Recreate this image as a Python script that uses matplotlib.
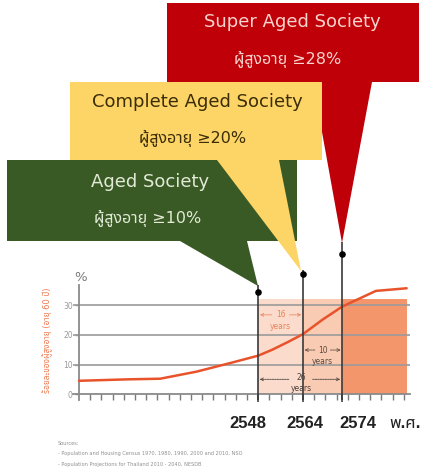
import numpy as np
import matplotlib
matplotlib.use('Agg')
import matplotlib.pyplot as plt
from matplotlib import font_manager
from matplotlib.ft2font import FT2Font
from matplotlib.patches import Polygon

# share of people aged 60+ (%), by Thai Buddhist-era year
curve_years = [2484, 2502, 2513, 2526, 2538, 2548, 2553, 2559, 2564, 2569, 2574, 2586, 2597]
curve_pct = [4.5, 5.0, 5.2, 7.6, 10.5, 13.0, 15.0, 17.8, 20.3, 25.2, 29.6, 34.9, 35.8]

milestone_years = [2548, 2564, 2574]
milestone_labels = ['2548', '2564', '2574']
stage_names = ['Aged Society', 'Complete Aged Society', 'Super Aged Society']
stage_thresholds = [10, 20, 28]

span_edges = [2548, 2564, 2574, 2597]
span_top = 32
gap_years = ['16', '10', '26']
y_ticks = [0, 10, 20, 30]

sources = ['Sources:',
           '- Population and Housing Census 1970, 1980, 1990, 2000 and 2010, NSO',
           '- Population Projections for Thailand 2010 - 2040, NESDB']


def find_thai_font():
    '''pick an installed family that has Thai glyphs'''
    found = []
    for f in font_manager.fontManager.ttflist:
        try:
            cmap = FT2Font(f.fname).get_charmap()
        except Exception:
            continue
        if 0x0E1C in cmap and 0x0E2D in cmap and 0x0E39 in cmap:
            found.append(f.name)
    for pref in ['Noto Sans Thai', 'Noto Sans Thai UI', 'Loma', 'Garuda', 'Tlwg Typo', 'Norasi']:
        if pref in found:
            return pref
    return found[0] if found else 'DejaVu Sans'


thai = find_thai_font()
latin_fam = ['DejaVu Sans', thai]
bold_fam = ['Liberation Sans', thai]

# the x axis of the original is not linear in years
scale_years = [2444, 2484, 2548, 2564, 2574, 2642]
scale_pos = [-10, 0, 16, 20, 23.5, 40.5]


def fwd(x):
    return np.interp(x, scale_years, scale_pos)


def inv(p):
    return np.interp(p, scale_pos, scale_years)


W, H = 430, 473
fig = plt.figure(figsize=(W / 100, H / 100), dpi=100)

# overlay in pixel coordinates for the callouts
ov = fig.add_axes([0, 0, 1, 1])
ov.set_xlim(0, W)
ov.set_ylim(H, 0)
ov.axis('off')

red, yellow, green = '#c00008', '#fdd466', '#395a25'
ov.add_patch(Polygon([(167, 3), (419, 3), (419, 82), (372, 82), (342, 243), (313, 82), (167, 82)],
                     closed=True, fc=red, ec='none'))
ov.add_patch(Polygon([(7, 160), (297, 160), (297, 241), (247, 241), (258, 286), (180, 241), (7, 241)],
                     closed=True, fc=green, ec='none'))
ov.add_patch(Polygon([(70, 82), (322, 82), (322, 160), (279, 160), (301, 271), (217, 160), (70, 160)],
                     closed=True, fc=yellow, ec='none'))

box_text = [((150, 182), (148, 218), '#e2ead6'),
            ((197, 102), (193, 138), '#3b2d08'),
            ((292, 22), (288, 60), '#f9d4cc')]
for name, thr, (p1, p2, col) in zip(stage_names, stage_thresholds, box_text):
    ov.text(p1[0], p1[1], name, color=col, fontsize=13, ha='center', va='center', family=latin_fam)
    ov.text(p2[0], p2[1], 'ผู้สูงอายุ ≥{}%'.format(thr), color=col, fontsize=11.5,
            ha='center', va='center', family=latin_fam)

for lab, xp in zip(milestone_labels, [248, 305, 358]):
    ov.text(xp, 423, lab, fontsize=12, fontweight='bold', color='#222222',
            ha='center', va='center', family=bold_fam)
ov.text(405, 423, 'พ.ศ.', fontsize=12, fontweight='bold', color='#222222',
        ha='center', va='center', family=bold_fam)

ov.text(81, 277, '%', fontsize=9.5, color='#7a7a7a', ha='center', va='center')
ov.text(48, 340, 'ร้อยละของผู้สูงอายุ (อายุ 60 ปี)', rotation=90, fontsize=6,
        color='#f07a50', ha='center', va='center', family=latin_fam)

for i, s in enumerate(sources):
    ov.text(58, 443 + i * 10.5, s, fontsize=3.6, color='#8f8f8f', ha='left', va='center')

# chart axes
x_left, x_right = inv(-0.5), inv(29.55)
px_left, px_right = 79 - 0.5 * 11.2, 410
px_top, px_bot = 285, 400
ax = fig.add_axes([px_left / W, 1 - px_bot / H, (px_right - px_left) / W, (px_bot - px_top) / H])
ax.set_facecolor('none')
ax.set_xscale('function', functions=(fwd, inv))
ax.set_xlim(x_left, x_right)
ax.set_ylim(-2, 36.9)

span_cols = ['#fbdccc', '#f8cbb2', '#f4966b']
for a, b, c in zip(span_edges[:-1], span_edges[1:], span_cols):
    ax.fill_between([a, b], 0, span_top, color=c, lw=0, zorder=0.5)

for v in y_ticks[1:]:
    ax.axhline(v, color='#9a9a9a', lw=1.2, zorder=1.5)

ax.plot(curve_years, curve_pct, color='#e8532b', lw=1.8, zorder=3, solid_capstyle='round')

line_tops = [36.9, 42.0, 51.5]
dot_levels = [34.6, 40.7, 47.5]
ax.vlines(milestone_years, -2, line_tops, colors='#3a3a3a', lw=1.2, zorder=4, clip_on=False)
ax.scatter(milestone_years, dot_levels, s=14, color='black', zorder=5, clip_on=False)


def gap_arrow(x_from, x_to, y, col):
    ax.annotate('', xy=(x_to, y), xytext=(x_from, y),
                arrowprops=dict(arrowstyle='->', color=col, lw=0.6, linestyle=(0, (2, 1)),
                                shrinkA=0, shrinkB=0, mutation_scale=5), zorder=4)


gap_cols = ['#e8835c', '#5a4a40', '#4a4040']
gap_spans = [(2548, 2564), (2564, 2574), (2548, 2574)]
gap_y = [26.8, 14.9, 5.6]
gap_x = [2556, 2569, 2563.5]
for lab, (a, b), y, xm, c in zip(gap_years, gap_spans, gap_y, gap_x, gap_cols):
    ax.text(xm, y, lab, fontsize=5.5, color=c, ha='center', va='center', zorder=4)
    ax.text(xm, y - 3.8, 'years', fontsize=5.5, color=c, ha='center', va='center', zorder=4)
    w = b - a
    if lab == '26':
        gap_arrow(a + 0.42 * w, a + 0.02 * w, y - 0.6, c)
        gap_arrow(a + 0.71 * w, b - 0.02 * w, y - 0.6, c)
    else:
        gap_arrow(xm - 0.2 * w, a + 0.04 * w, y, c)
        gap_arrow(xm + 0.2 * w, b - 0.04 * w, y, c)

for side in ['top', 'right']:
    ax.spines[side].set_visible(False)
ax.spines['bottom'].set_position(('data', 0))
ax.spines['left'].set_position(('data', 2484))
for side in ['bottom', 'left']:
    ax.spines[side].set_color('#8a8a8a')
    ax.spines[side].set_linewidth(1.3)

ax.set_yticks(y_ticks)
ax.set_yticklabels([str(v) for v in y_ticks])
ax.tick_params(axis='y', length=3, width=1, color='#9a9a9a', labelsize=5.5,
               labelcolor='#9a9a9a', pad=1.5)
ax.set_xticks(milestone_years)
ax.set_xticklabels([])
ax.set_xticks(inv(np.arange(1, 30)), minor=True)
ax.tick_params(axis='x', which='major', length=6, width=1.2, color='#444444')
ax.tick_params(axis='x', which='minor', length=4, width=1, color='#7a7a7a')

fig.savefig('out.png', dpi=100)
